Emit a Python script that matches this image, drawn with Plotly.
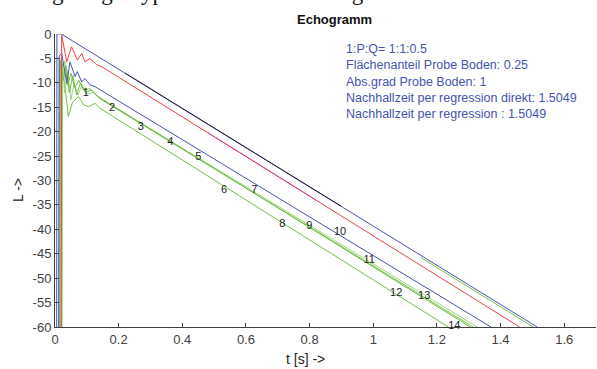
import plotly.graph_objects as go

# ---- data ----
blue_top_t = [0.005, 0.006, 0.020, 1.515]
blue_top_L = [-80, 0, 0, -60]

black_t = [0.22, 0.90]
black_L = [-8.0, -35.3]

red_t = [0.019, 0.021, 0.037, 0.052, 0.070, 0.084, 0.094, 0.110, 0.131, 0.147, 1.460]
red_L = [-80, -0.2, -5.7, -2.6, -5.3, -4.0, -5.7, -5.0, -6.3, -6.7, -60]

magenta_t = [0.48, 0.82]
magenta_L = [-20.2, -34.0]

blue_b_t = [0.011, 0.013, 0.021, 0.037, 0.047, 0.063, 0.070, 0.084, 0.094, 0.110, 0.126, 1.370]
blue_b_L = [-80, -4.5, -4.0, -10.1, -5.7, -8.7, -7.7, -9.8, -9.1, -10.4, -10.8, -60]

green_a_t = [0.012, 0.014, 0.022, 0.030, 0.040, 0.050, 0.062, 0.075, 0.090, 0.110, 0.130, 1.305]
green_a_L = [-80, -4.8, -7.0, -5.5, -10.5, -8.0, -11.0, -9.5, -11.5, -11.2, -12.6, -60]

green_b_t = [0.015, 0.017, 0.026, 0.035, 0.045, 0.056, 0.068, 0.080, 0.095, 0.115, 0.140, 1.314]
green_b_L = [-80, -5.5, -9.5, -6.5, -12.0, -8.5, -12.5, -10.0, -12.0, -11.5, -13.2, -60]

green_c_t = [0.022, 0.024, 0.030, 0.040, 0.050, 0.060, 0.072, 0.085, 0.100, 0.120, 0.150, 1.327]
green_c_L = [-80, -6.0, -12.0, -7.5, -13.5, -10.0, -12.5, -10.5, -12.3, -12.0, -13.5, -60]

green_d_t = [0.018, 0.020, 0.030, 0.042, 0.055, 0.074, 0.090, 0.105, 0.126, 0.141, 1.236]
green_d_L = [-80, -5.5, -10.0, -16.9, -14.0, -12.8, -14.5, -14.9, -14.2, -15.2, -60]

green_e_t = [1.15, 1.503]
green_e_L = [-45.8, -60]

label_text = [str(i) for i in range(1, 15)]
label_t = [0.097, 0.179, 0.270, 0.362, 0.450, 0.531, 0.626, 0.714, 0.799, 0.896, 0.987, 1.072, 1.160, 1.255]
label_L = [-12.1, -15.2, -19.0, -22.1, -25.2, -31.9, -31.9, -38.9, -39.3, -40.5, -46.3, -53.0, -53.6, -59.8]

x_ticks = [0, 0.2, 0.4, 0.6, 0.8, 1.0, 1.2, 1.4, 1.6]
x_tick_text = ["0", "0.2", "0.4", "0.6", "0.8", "1", "1.2", "1.4", "1.6"]
y_ticks = [0, -5, -10, -15, -20, -25, -30, -35, -40, -45, -50, -55, -60]
y_tick_text = ["0", "-5", "-10", "-15", "-20", "-25", "-30", "-35", "-40", "-45", "-50", "-55", "-60"]

info_lines = [
    "1:P:Q= 1:1:0.5",
    "Flächenanteil Probe Boden: 0.25",
    "Abs.grad Probe Boden: 1",
    "Nachhallzeit per regression direkt: 1.5049",
    "Nachhallzeit per regression : 1.5049",
]

# ---- styles ----
BLUE = "#4653B3"
RED = "#F23F3F"
MAGENTA = "#D8449A"
BLACK = "#1C1C2A"
GREEN = "#74BF48"
LGREEN = "#9CD67C"
FONT = "Liberation Sans, Arial, sans-serif"

fig = go.Figure()

def add(t, L, color):
    fig.add_trace(go.Scatter(x=t, y=L, mode="lines", line=dict(color=color, width=1),
                             hoverinfo="skip", showlegend=False))

add(green_d_t, green_d_L, GREEN)
add(green_c_t, green_c_L, LGREEN)
add(green_b_t, green_b_L, GREEN)
add(green_a_t, green_a_L, GREEN)
add(blue_b_t, blue_b_L, BLUE)
add(red_t, red_L, RED)
add(magenta_t, magenta_L, MAGENTA)
add(blue_top_t, blue_top_L, BLUE)
add(green_e_t, green_e_L, GREEN)
add(black_t, black_L, BLACK)

fig.add_trace(go.Scatter(x=label_t, y=label_L, mode="text", text=label_text,
                         textfont=dict(family=FONT, size=11, color="#222222"),
                         hoverinfo="skip", showlegend=False, cliponaxis=False))

fig.update_layout(
    width=597, height=369,
    margin=dict(l=55, r=1, t=34, b=42),
    paper_bgcolor="white", plot_bgcolor="white",
    font=dict(family=FONT, size=13, color="#404040"),
    xaxis=dict(range=[0, 1.7], tickvals=x_ticks, ticktext=x_tick_text,
               showgrid=False, zeroline=False, showline=True, linecolor="#404040",
               linewidth=1, ticks="inside", ticklen=4, tickcolor="#404040",
               tickfont=dict(size=13, color="#404040")),
    yaxis=dict(range=[-60, 0], tickvals=y_ticks, ticktext=y_tick_text,
               showgrid=False, zeroline=False, showline=True, linecolor="#404040",
               linewidth=1, ticks="inside", ticklen=4, tickcolor="#404040",
               tickfont=dict(size=13, color="#404040")),
)

W = 541.0
H = 293.0
def px(xp):
    return (xp - 55) / W
def py(yp):
    return (327 - yp) / H

annots = [
    dict(text="<b>Echogramm</b>", x=px(334), y=py(20), xanchor="center", yanchor="middle",
         font=dict(family=FONT, size=13, color="#111111")),
    dict(text="<br>".join(info_lines), x=px(344), y=py(40), xanchor="left", yanchor="top",
         align="left", font=dict(family=FONT, size=12.5, color=BLUE)),
    dict(text="L ->", x=px(18), y=py(190), xanchor="center", yanchor="middle", textangle=-90,
         font=dict(family=FONT, size=14, color="#262626")),
    dict(text="t [s] ->", x=px(305), y=py(359), xanchor="center", yanchor="middle",
         font=dict(family=FONT, size=14, color="#262626")),
    dict(text="nlage. e.g. Hypothesen Kanal 2. Ung. 2.", x=px(22), y=py(7),
         xanchor="left", yanchor="bottom",
         font=dict(family="Liberation Serif, serif", size=23, color="#111111")),
]
for a in annots:
    a.update(xref="paper", yref="paper", showarrow=False)
fig.update_layout(annotations=annots)

fig.write_html("out.html", config={"displayModeBar": False},
               post_script="document.body.style.margin='0';")
